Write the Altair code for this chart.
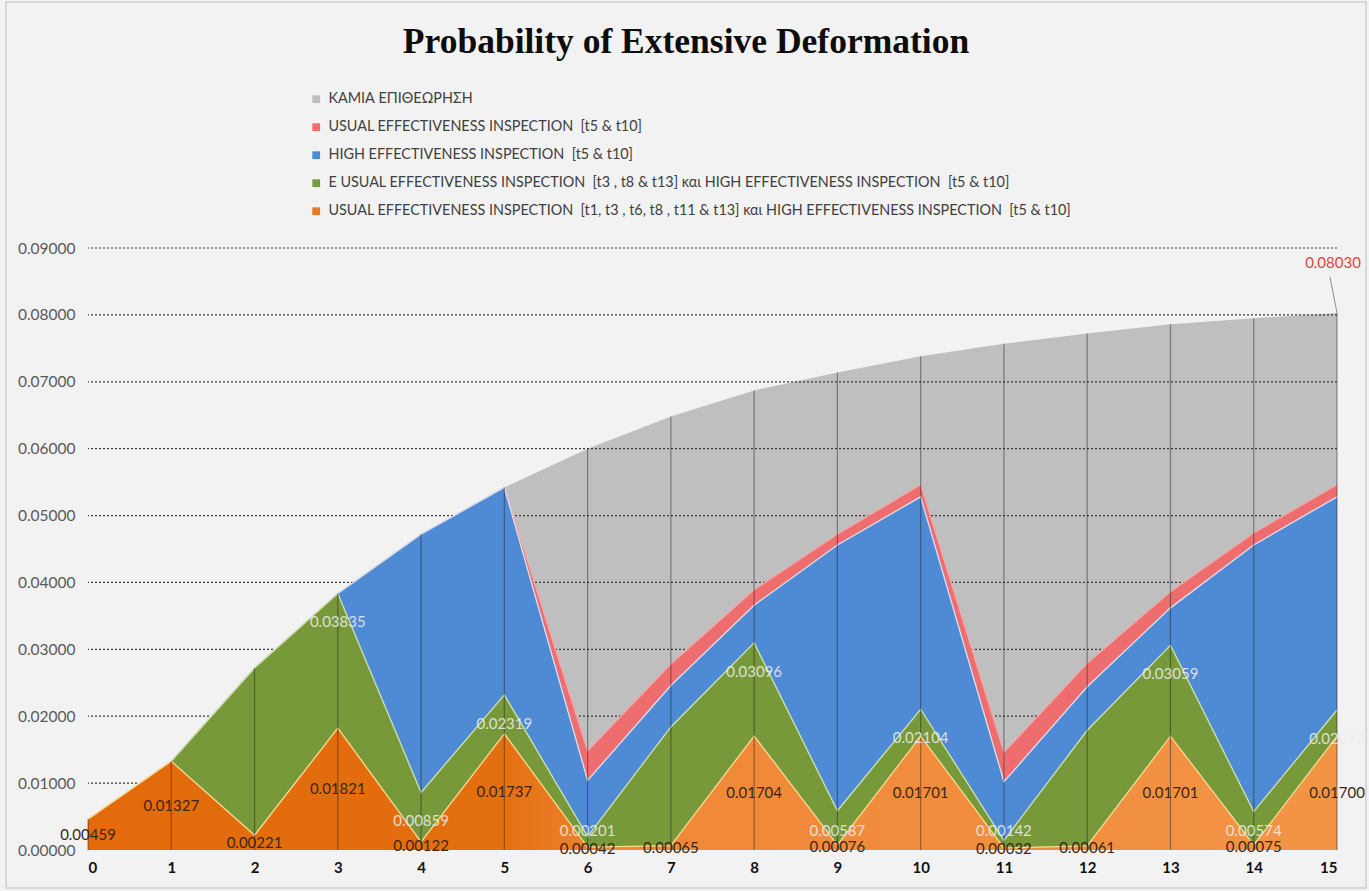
import altair as alt
import pandas as pd

# Inspection year on the horizontal axis
years = list(range(16))

# Probability of extensive deformation for each inspection plan
no_inspection = [0.00459, 0.01327, 0.0272, 0.03835, 0.0472, 0.0542, 0.0600, 0.0648,
                 0.0687, 0.0714, 0.0738, 0.0757, 0.0772, 0.0786, 0.0795, 0.08030]
usual_t5_t10 = [0.00459, 0.01327, 0.0272, 0.03835, 0.0472, 0.0542, 0.0148, 0.0278,
                0.0389, 0.0472, 0.0546, 0.0146, 0.0279, 0.0386, 0.0474, 0.0546]
high_t5_t10 = [0.00459, 0.01327, 0.0272, 0.03835, 0.0472, 0.0542, 0.0104, 0.0246,
               0.0366, 0.0456, 0.0528, 0.0102, 0.0244, 0.0362, 0.0456, 0.0528]
usual3_high = [0.00459, 0.01327, 0.0272, 0.03835, 0.00859, 0.02319, 0.00201, 0.0184,
               0.03096, 0.00587, 0.02104, 0.00142, 0.0179, 0.03059, 0.00574, 0.02093]
usual6_high = [0.00459, 0.01327, 0.00221, 0.01821, 0.00122, 0.01737, 0.00042, 0.00065,
               0.01704, 0.00076, 0.01701, 0.00032, 0.00061, 0.01701, 0.00075, 0.01700]

# Years whose value is printed on the green series
green_label_years = [3, 4, 5, 6, 8, 9, 10, 11, 13, 14, 15]

chart_title = "Probability of Extensive Deformation"

series_names = [
    "ΚΑΜΙΑ ΕΠΙΘΕΩΡΗΣΗ",
    "USUAL EFFECTIVENESS INSPECTION\u00a0 [t5 & t10]",
    "HIGH EFFECTIVENESS INSPECTION\u00a0 [t5 & t10]",
    "E USUAL EFFECTIVENESS INSPECTION\u00a0 [t3 , t8 & t13] και HIGH EFFECTIVENESS INSPECTION\u00a0 [t5 & t10]",
    "USUAL EFFECTIVENESS INSPECTION\u00a0 [t1, t3 , t6, t8 , t11 & t13] και HIGH EFFECTIVENESS INSPECTION\u00a0 [t5 & t10]",
]
series_colors = ["#BFBFBF", "#EE6E70", "#4F8AD4", "#779939", "#EA7A22"]
edge_colors = ["#C9C9C9", "#F4A6A6", "#D8E2F4", "#CFE3B0", "#FADB93"]
series_values = [no_inspection, usual_t5_t10, high_t5_t10, usual3_high, usual6_high]

y_ticks = [round(0.01 * i, 2) for i in range(10)]
grid_levels = [round(0.01 * i, 2) for i in range(1, 10)]

rows = []
for name, vals in zip(series_names, series_values):
    for yr, v in zip(years, vals):
        rows.append({"year": yr, "series": name, "value": v})
df = pd.DataFrame(rows)

x_enc = alt.X("year:Q", scale=alt.Scale(domain=[0, 15], nice=False, zero=False),
              axis=alt.Axis(values=years, format="d", title=None, grid=False,
                            domain=False, ticks=False, labelFont="Lato",
                            labelFontSize=15, labelFontWeight="bold",
                            labelColor="#111111", labelPadding=10))
y_enc = alt.Y("value:Q", stack=None, scale=alt.Scale(domain=[0, 0.09], nice=False),
              axis=alt.Axis(values=y_ticks, format=".5f", title=None, grid=False,
                            domain=False, ticks=False, labelFont="Lato",
                            labelFontSize=15.5, labelColor="#595959", labelPadding=13))

color_scale = alt.Scale(domain=series_names, range=series_colors)
legend = alt.Legend(title=None, orient="none", legendX=221, legendY=-156,
                    symbolType="square", symbolSize=60, symbolStrokeWidth=0,
                    labelFont="Lato", labelFontSize=14.4, labelColor="#404040",
                    labelLimit=1200, rowPadding=13, labelOffset=5, padding=0)

base = alt.Chart(df).encode(x=x_enc, y=y_enc)


def area_layer(i):
    return base.transform_filter(alt.datum.series == series_names[i]).mark_area(
        opacity=1).encode(color=alt.Color("series:N", scale=color_scale, legend=legend))


def edge_layer(i):
    return base.transform_filter(alt.datum.series == series_names[i]).mark_line(
        color=edge_colors[i], strokeWidth=1.3)


gray_area = area_layer(0)
red_area = area_layer(1)
blue_area = area_layer(2)
green_area = area_layer(3)

orange_fill = alt.LinearGradient(
    gradient="linear", x1=0, x2=1, y1=0, y2=0,
    stops=[alt.GradientStop(color="#E26A0A", offset=0),
           alt.GradientStop(color="#E46F10", offset=0.33),
           alt.GradientStop(color="#EF8736", offset=0.42),
           alt.GradientStop(color="#F39445", offset=1)])
orange_area = base.transform_filter(alt.datum.series == series_names[4]).mark_area(
    color=orange_fill, opacity=1)

# Dotted horizontal grid, visible over the grey area only
grid = alt.Chart(pd.DataFrame({"level": grid_levels})).mark_rule(
    color="#3A3A3A", strokeDash=[2, 2], strokeWidth=1.2).encode(
    y=alt.Y("level:Q"))

# Drop lines from the axis to the top of the envelope
drop = alt.Chart(pd.DataFrame({"year": years, "top": no_inspection})).mark_rule(
    color="#1E1E1E", opacity=0.45, strokeWidth=1.2).encode(
    x=alt.X("year:Q"), y=alt.Y("zero:Q"), y2="top:Q").transform_calculate(zero="0")

# Value labels
orange_labels = base.transform_filter(alt.datum.series == series_names[4]).transform_calculate(
    pos="datum.value / 2", txt="format(datum.value, '.5f')").mark_text(
    font="Lato", fontSize=15, color="#3A2614").encode(
    y=alt.Y("pos:Q"), text="txt:N")

green_labels = base.transform_filter(alt.datum.series == series_names[3]).transform_filter(
    alt.FieldOneOfPredicate(field="year", oneOf=green_label_years)).transform_calculate(
    pos="max(datum.value - 0.0043, 0.0029)", txt="format(datum.value, '.5f')").mark_text(
    font="Lato", fontSize=15, color="#EEEEEE", opacity=0.85).encode(
    y=alt.Y("pos:Q"), text="txt:N")

# Call-out for the final no-inspection value
end_df = pd.DataFrame({"year": [years[-1]], "value": [no_inspection[-1]]})
end_label = alt.Chart(end_df).transform_calculate(
    txt="format(datum.value, '.5f')").mark_text(
    font="Lato", fontSize=15, color="#E8403F", dx=-4, dy=-50).encode(
    x="year:Q", y="value:Q", text="txt:N")
end_leader = alt.Chart(end_df).transform_calculate(
    x2="datum.year - 0.085", y2="datum.value + 0.0054").mark_rule(
    color="#8C8C8C", strokeWidth=1).encode(
    x="year:Q", y="value:Q", x2="x2:Q", y2="y2:Q")

# Chart title and outer frame
title = alt.Chart(pd.DataFrame({"t": [chart_title]})).mark_text(
    font="Liberation Serif", fontSize=35.5, fontWeight="bold", color="#0D0D0D",
    baseline="middle", align="center").encode(
    x=alt.value(598), y=alt.value(-206), text="t:N")

frame = alt.Chart(pd.DataFrame({"k": [0]})).mark_rect(
    fill=None, stroke="#CFCFCF", strokeWidth=1.5).encode(
    x=alt.value(-82), x2=alt.value(1278), y=alt.value(-246), y2=alt.value(640))

chart = alt.layer(
    gray_area, grid,
    red_area, edge_layer(1),
    blue_area, edge_layer(2),
    green_area, edge_layer(3),
    orange_area, edge_layer(4),
    drop, orange_labels, green_labels, end_leader, end_label, title, frame,
).properties(
    width=1249, height=602,
    padding={"left": 88, "top": 248, "right": 32, "bottom": 41},
    autosize=alt.AutoSizeParams(type="none"),
    background="#F2F2F2",
).configure_view(strokeWidth=0)

chart.save("out.html", embed_options={"renderer": "svg", "actions": False})
